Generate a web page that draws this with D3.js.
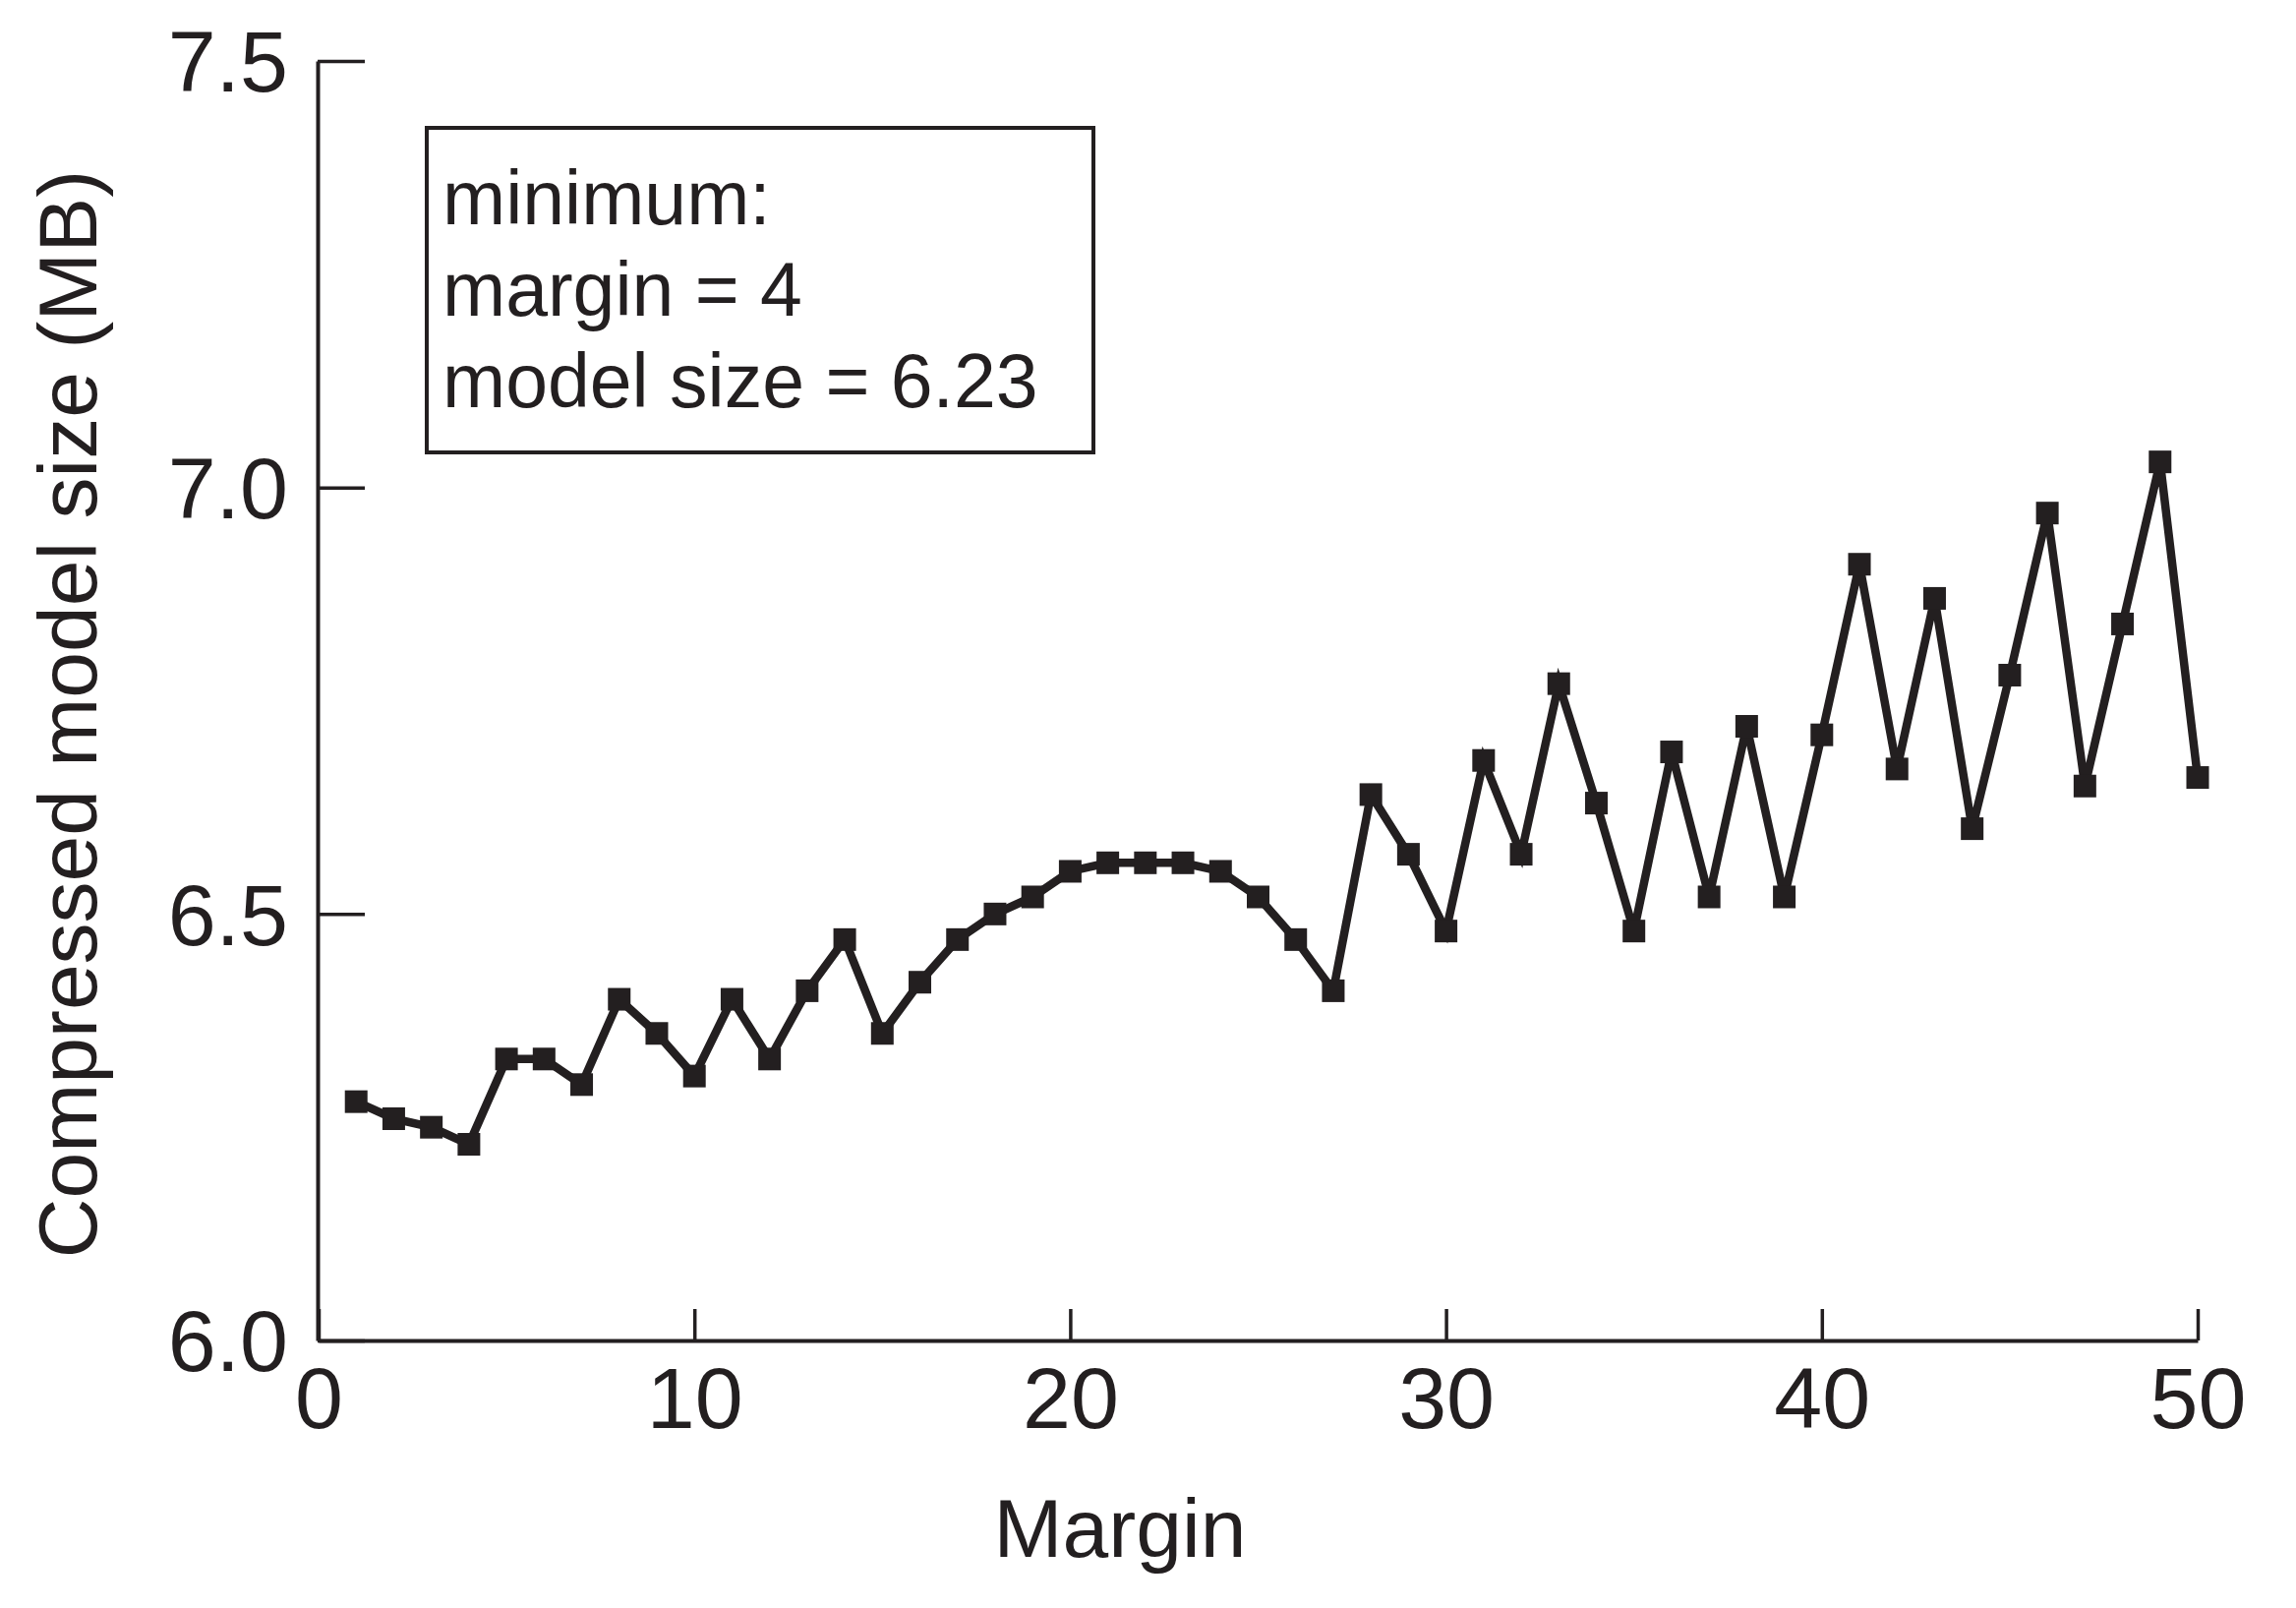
<!DOCTYPE html>
<html>
<head>
<meta charset="utf-8">
<script src="https://cdn.jsdelivr.net/npm/d3@7"></script>
<style>
  html, body { margin: 0; padding: 0; background: #ffffff; }
  svg { display: block; font-family: "Liberation Sans", Arial, Helvetica, sans-serif; }
</style>
</head>
<body>
<svg id="chart" width="2335" height="1635"></svg>
<script>
// ---- data ----
const margins = [1,2,3,4,5,6,7,8,9,10,11,12,13,14,15,16,17,18,19,20,21,22,23,24,25,26,27,28,29,30,31,32,33,34,35,36,37,38,39,40,41,42,43,44,45,46,47,48,49,50];
const modelSizes = [6.28,6.26,6.25,6.23,6.33,6.33,6.30,6.40,6.36,6.31,6.40,6.33,6.41,6.47,6.36,6.42,6.47,6.50,6.52,6.55,6.56,6.56,6.56,6.55,6.52,6.47,6.41,6.64,6.57,6.48,6.68,6.57,6.77,6.63,6.48,6.69,6.52,6.72,6.52,6.71,6.91,6.67,6.87,6.60,6.78,6.97,6.65,6.84,7.03,6.66];
const xTicks = [0,10,20,30,40,50];
const yTicks = [6.0,6.5,7.0,7.5];
const xTitle = "Margin";
const yTitle = "Compressed model size (MB)";
const noteLines = ["minimum:", "margin = 4", "model size = 6.23"];

// ---- layout ----
const ink = "#231f20";
const svg = d3.select("#chart");
const x = d3.scaleLinear().domain([0, 50]).range([324, 2235]);
const y = d3.scaleLinear().domain([6.0, 7.5]).range([1363, 62]);

// axes
const xAxis = d3.axisBottom(x).tickValues(xTicks).tickFormat(d3.format("d"))
  .tickSizeInner(-32).tickSizeOuter(0).tickPadding(27);
const yAxis = d3.axisLeft(y).tickValues(yTicks).tickFormat(d3.format(".1f"))
  .tickSizeInner(-48).tickSizeOuter(0).tickPadding(30);

const gx = svg.append("g").attr("transform", "translate(0,1363)").call(xAxis);
const gy = svg.append("g").attr("transform", "translate(323,0)").call(yAxis);

[gx, gy].forEach(g => {
  g.select(".domain").attr("stroke", ink).attr("stroke-width", 4);
  g.selectAll(".tick line").attr("stroke", ink).attr("stroke-width", 3.5);
  g.selectAll(".tick text").attr("fill", ink).style("font-size", "88px")
    .style("font-family", '"Liberation Sans", Arial, sans-serif');
});
gy.selectAll(".tick text").attr("dy", "0.35em");

// axis titles
svg.append("text")
  .attr("x", 1139).attr("y", 1583)
  .attr("text-anchor", "middle")
  .attr("fill", ink).style("font-size", "84px")
  .text(xTitle);

svg.append("text")
  .attr("transform", "translate(98,726) rotate(-90)")
  .attr("text-anchor", "middle")
  .attr("fill", ink).style("font-size", "84px")
  .text(yTitle);

// annotation box
svg.append("rect")
  .attr("x", 434).attr("y", 130).attr("width", 678).attr("height", 330)
  .attr("fill", "none").attr("stroke", ink).attr("stroke-width", 4);

svg.append("g").selectAll("text").data(noteLines).join("text")
  .attr("x", 450)
  .attr("y", (d, i) => 228 + i * 93)
  .attr("fill", ink).style("font-size", "77px")
  .text(d => d);

// data line
const pts = margins.map((m, i) => ({ m: m, v: modelSizes[i] }));
const line = d3.line().x(d => x(d.m)).y(d => y(d.v));

svg.append("path")
  .datum(pts)
  .attr("d", line)
  .attr("fill", "none")
  .attr("stroke", ink)
  .attr("stroke-width", 8.5)
  .attr("stroke-linejoin", "miter");

const s = 23;
svg.append("g").selectAll("rect").data(pts).join("rect")
  .attr("x", d => x(d.m) - s / 2)
  .attr("y", d => y(d.v) - s / 2)
  .attr("width", s).attr("height", s)
  .attr("fill", ink);
</script>
</body>
</html>
